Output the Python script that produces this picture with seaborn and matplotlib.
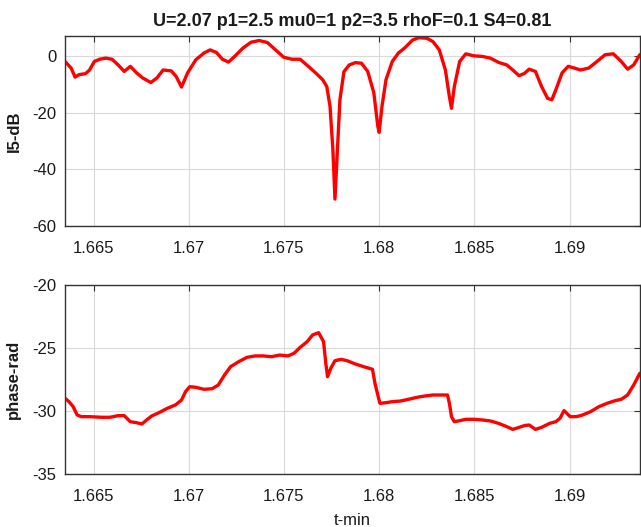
import numpy as np
import pandas as pd
import matplotlib
matplotlib.use("Agg")
import matplotlib.pyplot as plt
import seaborn as sns

# top panel: intensity (dB)
t_amp = [1.66350, 1.66382, 1.66403, 1.66425, 1.66457, 1.66479, 1.66504, 1.66532,
         1.66564, 1.66597, 1.66629, 1.66661, 1.66693, 1.66726, 1.66758, 1.66801,
         1.66833, 1.66865, 1.66908, 1.66934, 1.66962, 1.66994, 1.67037, 1.67080,
         1.67112, 1.67145, 1.67177, 1.67209, 1.67241, 1.67284, 1.67327, 1.67370,
         1.67413, 1.67456, 1.67499, 1.67542, 1.67585, 1.67628, 1.67671, 1.67703,
         1.67725, 1.67742, 1.67757, 1.67768, 1.67781, 1.67794, 1.67815, 1.67843,
         1.67875, 1.67907, 1.67940, 1.67972, 1.67993, 1.68000, 1.68015, 1.68036,
         1.68069, 1.68101, 1.68133, 1.68176, 1.68208, 1.68251, 1.68283, 1.68316,
         1.68348, 1.68369, 1.68380, 1.68395, 1.68423, 1.68455, 1.68498, 1.68541,
         1.68584, 1.68627, 1.68670, 1.68702, 1.68735, 1.68763, 1.68788, 1.68821,
         1.68853, 1.68885, 1.68907, 1.68928, 1.68961, 1.68993, 1.69025, 1.69058,
         1.69101, 1.69144, 1.69187, 1.69230, 1.69272, 1.69305, 1.69337, 1.69369]
i5_db = [-2.0, -4.3, -7.5, -6.6, -6.3, -5.0, -2.0, -1.2,
         -0.8, -1.2, -3.2, -5.5, -3.7, -6.0, -7.8, -9.4,
         -7.8, -5.0, -5.3, -7.3, -11.0, -6.0, -1.4, 1.0,
         2.1, 1.2, -1.2, -2.2, -0.2, 2.7, 4.8, 5.4,
         4.7, 2.1, -0.5, -1.2, -1.2, -3.7, -6.3, -8.4,
         -10.8, -17.8, -33.0, -50.5, -33.0, -15.5, -5.6, -3.2,
         -2.4, -2.6, -5.5, -13.0, -24.8, -27.0, -17.8, -8.4,
         -2.0, 1.0, 2.7, 5.6, 6.4, 6.2, 5.0, 2.1,
         -5.0, -14.4, -18.5, -10.8, -2.0, 0.7, 0.0, -0.2,
         -0.8, -2.3, -3.2, -5.0, -7.0, -6.2, -4.7, -5.5,
         -10.8, -15.0, -15.5, -12.0, -6.0, -3.7, -4.3, -5.0,
         -4.3, -2.0, 0.4, 0.7, -2.0, -4.7, -3.2, 0.4]

# bottom panel: phase (rad)
t_phase = [1.66350, 1.66371, 1.66393, 1.66414, 1.66436, 1.66479, 1.66543, 1.66586,
           1.66629, 1.66661, 1.66693, 1.66726, 1.66754, 1.66779, 1.66805, 1.66844,
           1.66887, 1.66930, 1.66962, 1.66983, 1.67005, 1.67037, 1.67080, 1.67123,
           1.67155, 1.67188, 1.67220, 1.67263, 1.67306, 1.67349, 1.67392, 1.67435,
           1.67478, 1.67521, 1.67553, 1.67585, 1.67622, 1.67650, 1.67682, 1.67708,
           1.67720, 1.67729, 1.67746, 1.67768, 1.67800, 1.67832, 1.67875, 1.67918,
           1.67965, 1.67978, 1.67993, 1.68004, 1.68036, 1.68069, 1.68112, 1.68155,
           1.68197, 1.68240, 1.68283, 1.68326, 1.68359, 1.68369, 1.68380, 1.68395,
           1.68423, 1.68455, 1.68498, 1.68541, 1.68584, 1.68627, 1.68670, 1.68702,
           1.68735, 1.68763, 1.68788, 1.68821, 1.68853, 1.68896, 1.68928, 1.68950,
           1.68971, 1.69003, 1.69036, 1.69068, 1.69111, 1.69154, 1.69197, 1.69240,
           1.69272, 1.69305, 1.69337, 1.69369]
phase_rad = [-28.99, -29.26, -29.66, -30.32, -30.45, -30.45, -30.50, -30.50,
             -30.37, -30.37, -30.85, -30.93, -31.03, -30.71, -30.40, -30.13,
             -29.79, -29.52, -29.13, -28.47, -28.07, -28.12, -28.28, -28.23,
             -27.94, -27.14, -26.48, -26.08, -25.74, -25.63, -25.63, -25.69,
             -25.56, -25.63, -25.42, -24.95, -24.50, -23.97, -23.78, -24.50,
             -26.22, -27.28, -26.61, -26.01, -25.90, -26.01, -26.27, -26.48,
             -26.69, -27.80, -28.73, -29.39, -29.34, -29.26, -29.21, -29.07,
             -28.92, -28.81, -28.73, -28.73, -28.73, -29.39, -30.45, -30.85,
             -30.77, -30.66, -30.66, -30.71, -30.79, -30.98, -31.24, -31.46,
             -31.30, -31.16, -31.11, -31.46, -31.30, -30.98, -30.85, -30.58,
             -29.97, -30.45, -30.45, -30.32, -30.05, -29.66, -29.39, -29.18,
             -29.07, -28.73, -27.94, -27.01]

x_ticks = [1.665, 1.67, 1.675, 1.68, 1.685, 1.69]
x_tick_labels = ["1.665", "1.67", "1.675", "1.68", "1.685", "1.69"]

title = "U=2.07 p1=2.5 mu0=1 p2=3.5 rhoF=0.1 S4=0.81"

sns.set_style("whitegrid")
plt.rcParams["font.family"] = ["Liberation Sans", "DejaVu Sans"]
plt.rcParams["axes.unicode_minus"] = False

fig = plt.figure(figsize=(6.41, 5.27), dpi=100)
ax1 = fig.add_axes([0.1014, 0.5712, 0.8970, 0.3605])
ax2 = fig.add_axes([0.1014, 0.1006, 0.8970, 0.3586])

df_amp = pd.DataFrame({"t": t_amp, "db": i5_db})
df_ph = pd.DataFrame({"t": t_phase, "ph": phase_rad})

sns.lineplot(data=df_amp, x="t", y="db", ax=ax1, color="#ff0000", linewidth=2.4)
sns.lineplot(data=df_ph, x="t", y="ph", ax=ax2, color="#ff0000", linewidth=2.4)

ax1.set_ylim(-60, 7)
ax1.set_yticks([-60, -40, -20, 0])
ax2.set_ylim(-35, -20)
ax2.set_yticks([-35, -30, -25, -20])

for ax in (ax1, ax2):
    ax.set_xlim(1.6635, 1.6937)
    ax.set_xticks(x_ticks)
    ax.set_xticklabels(x_tick_labels)
    ax.grid(True, color="#d9d9d9", linewidth=0.8)
    ax.tick_params(direction="in", length=4, width=0.8, color="#333333",
                   top=True, right=True, labelsize=12, labelcolor="#1a1a1a")
    ax.tick_params(axis="x", pad=11)
    ax.tick_params(axis="y", pad=6)
    for s in ax.spines.values():
        s.set_color("#333333")
        s.set_linewidth(1.0)
    ax.set_facecolor("white")

ax1.set_xlabel("")
ax1.set_ylabel("I5-dB", fontsize=12, fontweight="bold", labelpad=8, color="#1a1a1a")
ax2.set_ylabel("phase-rad", fontsize=12, fontweight="bold", labelpad=8, color="#1a1a1a")
ax2.set_xlabel("t-min", fontsize=12, labelpad=6, color="#1a1a1a")
ax1.set_title(title, fontsize=13, fontweight="bold", pad=7, color="#1a1a1a")

fig.savefig("out.png", dpi=100)
plt.close(fig)
